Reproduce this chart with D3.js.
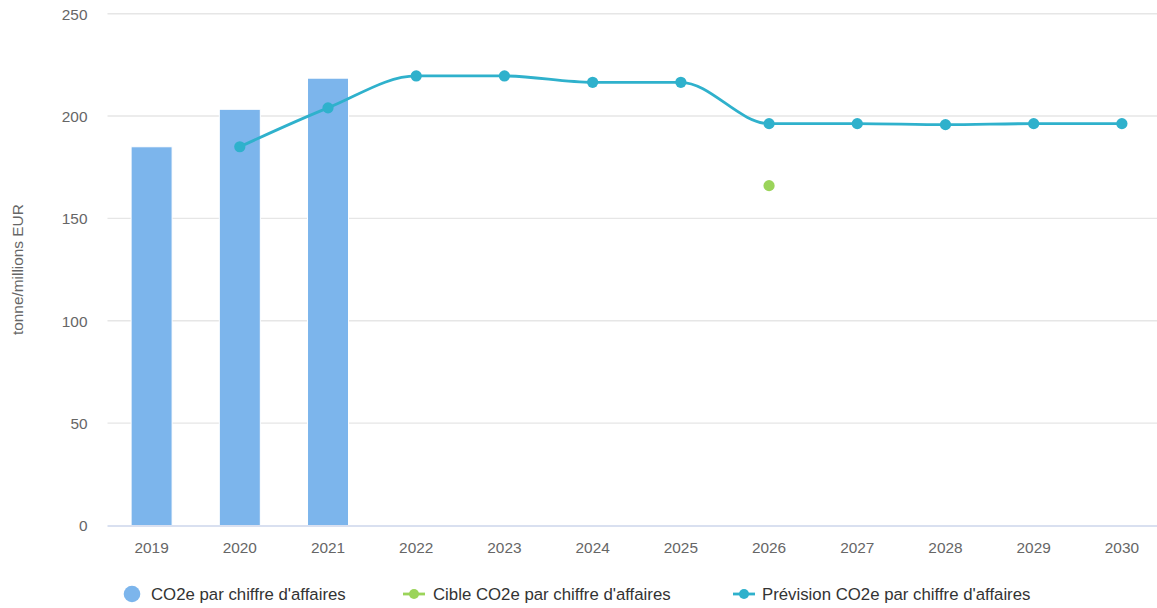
<!DOCTYPE html>
<html>
<head>
<meta charset="utf-8">
<script src="https://cdn.jsdelivr.net/npm/d3@7"></script>
<style>
  html, body { margin: 0; padding: 0; background: #ffffff; }
  svg { display: block; font-family: "Liberation Sans", Arial, sans-serif; }
</style>
</head>
<body>
<svg id="chart" width="1157" height="608"></svg>
<script>
const categories = ["2019","2020","2021","2022","2023","2024","2025","2026","2027","2028","2029","2030"];
const barValues = [185, 203.3, 218.5, null, null, null, null, null, null, null, null, null];
const targetValues = [null, null, null, null, null, null, null, 166, null, null, null, null];
const forecastValues = [null, 185, 204, 219.6, 219.6, 216.5, 216.5, 196.3, 196.3, 195.8, 196.3, 196.3];
const yTicks = [0, 50, 100, 150, 200, 250];
const seriesNames = ["CO2e par chiffre d'affaires", "Cible CO2e par chiffre d'affaires", "Prévision CO2e par chiffre d'affaires"];
const yTitle = "tonne/millions EUR";

const colBar = "#7cb5ec", colTarget = "#9bd45a", colForecast = "#2fb1cc";

const svg = d3.select("#chart");
const pLeft = 107.5, pRight = 1166, pTop = 13.7, pBottom = 525.5;

const x = d3.scaleBand().domain(categories).range([pLeft, pRight]).paddingInner(0).paddingOuter(0);
const y = d3.scaleLinear().domain([0, 250]).range([pBottom, pTop]);

// gridlines
svg.append("g").selectAll("line").data(yTicks.filter(d => d > 0)).join("line")
  .attr("x1", pLeft).attr("x2", pRight)
  .attr("y1", d => y(d)).attr("y2", d => y(d))
  .attr("stroke", "#e6e6e6").attr("stroke-width", 1.4);

// y axis labels
const yAxis = d3.axisLeft(y).tickValues(yTicks).tickSize(0).tickPadding(0);
const gy = svg.append("g").attr("transform", `translate(${pLeft - 20},0)`).call(yAxis);
gy.select(".domain").remove();
gy.selectAll("text").attr("fill", "#666666").style("font-size", "15.4px")
  .style("font-family", "'Liberation Sans', Arial, sans-serif").attr("dy", "0.35em");

// y title
svg.append("text")
  .attr("transform", `translate(22.5,${(pTop + pBottom) / 2}) rotate(-90)`)
  .attr("text-anchor", "middle")
  .attr("fill", "#666666").style("font-size", "15.4px")
  .text(yTitle);

// bars
const bw = 41;
svg.append("g").selectAll("rect")
  .data(categories.map((c, i) => ({c, v: barValues[i]})).filter(d => d.v != null))
  .join("rect")
  .attr("x", d => x(d.c) + x.bandwidth() / 2 - bw / 2)
  .attr("width", bw)
  .attr("y", d => y(d.v))
  .attr("height", d => y(0) - y(d.v))
  .attr("fill", colBar)
  .attr("stroke", "#ffffff").attr("stroke-width", 1);

// x axis
const xAxis = d3.axisBottom(x).tickSize(0).tickPadding(0);
const gx = svg.append("g").attr("transform", `translate(0,${pBottom})`).call(xAxis);
gx.select(".domain").remove();
gx.selectAll("text").attr("fill", "#666666").style("font-size", "15.4px")
  .style("font-family", "'Liberation Sans', Arial, sans-serif").attr("y", 27).attr("dy", 0);
svg.append("line").attr("x1", pLeft).attr("x2", pRight).attr("y1", pBottom + 0.5).attr("y2", pBottom + 0.5)
  .attr("stroke", "#ccd6eb").attr("stroke-width", 1.4);

// forecast line
const fData = categories.map((c, i) => ({c, v: forecastValues[i]})).filter(d => d.v != null);
const line = d3.line().x(d => x(d.c) + x.bandwidth() / 2).y(d => y(d.v)).curve(d3.curveMonotoneX);
svg.append("path").datum(fData).attr("d", line)
  .attr("fill", "none").attr("stroke", colForecast).attr("stroke-width", 2.8);
svg.append("g").selectAll("circle").data(fData).join("circle")
  .attr("cx", d => x(d.c) + x.bandwidth() / 2).attr("cy", d => y(d.v))
  .attr("r", 5.6).attr("fill", colForecast);

// target points
const tData = categories.map((c, i) => ({c, v: targetValues[i]})).filter(d => d.v != null);
svg.append("g").selectAll("circle").data(tData).join("circle")
  .attr("cx", d => x(d.c) + x.bandwidth() / 2).attr("cy", d => y(d.v))
  .attr("r", 5.6).attr("fill", colTarget);

// legend
const ly = 594;
const lg = svg.append("g");
lg.append("circle").attr("cx", 132).attr("cy", ly).attr("r", 8.3).attr("fill", colBar);
lg.append("text").attr("x", 151).attr("y", 600).attr("fill", "#333333").style("font-size", "16.8px").text(seriesNames[0]);

lg.append("line").attr("x1", 403).attr("x2", 425).attr("y1", ly).attr("y2", ly).attr("stroke", colTarget).attr("stroke-width", 2.8);
lg.append("circle").attr("cx", 414).attr("cy", ly).attr("r", 5).attr("fill", colTarget);
lg.append("text").attr("x", 433).attr("y", 600).attr("fill", "#333333").style("font-size", "16.8px").text(seriesNames[1]);

lg.append("line").attr("x1", 733).attr("x2", 755).attr("y1", ly).attr("y2", ly).attr("stroke", colForecast).attr("stroke-width", 2.8);
lg.append("circle").attr("cx", 744).attr("cy", ly).attr("r", 5).attr("fill", colForecast);
lg.append("text").attr("x", 762).attr("y", 600).attr("fill", "#333333").style("font-size", "16.8px").text(seriesNames[2]);
</script>
</body>
</html>
